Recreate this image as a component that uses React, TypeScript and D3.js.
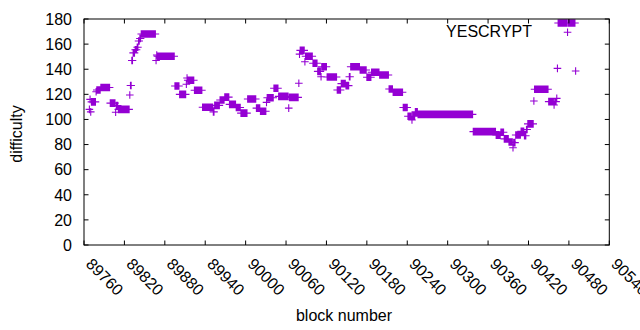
import React from 'react';
import * as d3 from 'd3';

// x tick labels (block numbers) and y tick labels (difficulty)
const xTicks = [89760, 89820, 89880, 89940, 90000, 90060, 90120, 90180, 90240, 90300, 90360, 90420, 90480, 90540];
const yTicks = [0, 20, 40, 60, 80, 100, 120, 140, 160, 180];
const seriesName = 'YESCRYPT';

// runs of constant difficulty: [first block, last block, difficulty]
const difficultyRuns: [number, number, number][] = [
  [89768, 89768, 108],
  [89769, 89769, 116],
  [89770, 89770, 106],
  [89771, 89777, 114],
  [89778, 89778, 122],
  [89779, 89784, 123.5],
  [89785, 89798, 125.5],
  [89799, 89806, 113],
  [89807, 89807, 105.7],
  [89808, 89810, 111],
  [89811, 89827, 108],
  [89828, 89828, 119.5],
  [89829, 89830, 127],
  [89831, 89832, 147],
  [89833, 89835, 153],
  [89836, 89838, 155.5],
  [89839, 89840, 157.5],
  [89841, 89842, 162.5],
  [89843, 89844, 164.5],
  [89845, 89866, 168],
  [89867, 89867, 147],
  [89868, 89868, 151.3],
  [89869, 89894, 150.3],
  [89895, 89901, 126.6],
  [89902, 89911, 120],
  [89912, 89912, 128],
  [89913, 89913, 133],
  [89914, 89923, 131.2],
  [89924, 89935, 123.2],
  [89936, 89951, 109.7],
  [89952, 89953, 106],
  [89954, 89961, 111.2],
  [89962, 89968, 115.5],
  [89969, 89975, 117.8],
  [89976, 89985, 112],
  [89986, 89992, 109.5],
  [89993, 90002, 105],
  [90003, 90015, 116.3],
  [90016, 90021, 109],
  [90022, 90030, 106.5],
  [90031, 90031, 113.6],
  [90032, 90041, 117.3],
  [90042, 90048, 124.8],
  [90049, 90063, 118.4],
  [90064, 90064, 109],
  [90065, 90078, 117.6],
  [90079, 90079, 128.8],
  [90080, 90080, 152],
  [90081, 90087, 155],
  [90088, 90088, 146],
  [90089, 90099, 150.3],
  [90100, 90106, 144.7],
  [90107, 90111, 138.3],
  [90112, 90112, 134],
  [90113, 90120, 142],
  [90121, 90135, 133.8],
  [90136, 90141, 123.5],
  [90142, 90148, 128.5],
  [90149, 90153, 126.9],
  [90154, 90155, 134],
  [90156, 90169, 142],
  [90170, 90179, 139.4],
  [90180, 90186, 133.6],
  [90187, 90198, 137.6],
  [90199, 90212, 135.4],
  [90213, 90218, 124.3],
  [90219, 90233, 121.6],
  [90234, 90240, 109.5],
  [90241, 90246, 102.5],
  [90247, 90247, 99.6],
  [90248, 90251, 102.5],
  [90252, 90255, 106],
  [90256, 90337, 104],
  [90338, 90371, 90.3],
  [90372, 90378, 87.5],
  [90379, 90383, 89.8],
  [90384, 90390, 84.5],
  [90391, 90396, 82],
  [90397, 90397, 77.5],
  [90398, 90400, 81.5],
  [90401, 90408, 87.6],
  [90409, 90413, 90.5],
  [90414, 90416, 87],
  [90417, 90418, 92],
  [90419, 90427, 96.5],
  [90428, 90428, 114.7],
  [90429, 90449, 124],
  [90450, 90457, 114.2],
  [90458, 90458, 111.5],
  [90459, 90461, 114.2],
  [90462, 90462, 116.8],
  [90463, 90463, 140.7],
  [90464, 90477, 176.8],
  [90478, 90478, 169.4],
  [90479, 90489, 176.8],
  [90490, 90490, 138.6],
];

const LEFT = 84;
const RIGHT = 609.3;
const TOP = 19;
const BOTTOM = 245;
const FONT = '"Liberation Sans", Arial, sans-serif';
const COLOR = '#9400d3';

export default function App() {
  const x = d3.scaleLinear().domain([xTicks[0], xTicks[xTicks.length - 1]]).range([LEFT, RIGHT]);
  const y = d3.scaleLinear().domain([0, 180]).range([BOTTOM, TOP]);
  const points: [number, number][] = difficultyRuns.flatMap(([a, b, v]) =>
    d3.range(a, b + 1).map((n) => [n, v] as [number, number])
  );
  const r = 3.8;
  const plusPath = points
    .map(([n, v]) => {
      const px = x(n);
      const py = y(v);
      return `M${px - r},${py}h${2 * r}M${px},${py - r}v${2 * r}`;
    })
    .join('');
  const tl = 4.5;

  return (
    <svg width={640} height={330} style={{ position: 'absolute', left: 0, top: 0, background: '#fff' }} fontFamily={FONT} fontSize={16}>
      <rect x={0} y={0} width={640} height={330} fill="#fff" />
      <path d={plusPath} stroke={COLOR} strokeWidth={1.1} fill="none" />
      {yTicks.map((t) => (
        <g key={'y' + t}>
          <line x1={LEFT} x2={LEFT + tl} y1={y(t)} y2={y(t)} stroke="#000" />
          <line x1={RIGHT} x2={RIGHT - tl} y1={y(t)} y2={y(t)} stroke="#000" />
          <text x={72} y={y(t)} dy="0.36em" textAnchor="end" fill="#000">{t}</text>
        </g>
      ))}
      {xTicks.map((t) => (
        <g key={'x' + t}>
          <line x1={x(t)} x2={x(t)} y1={BOTTOM} y2={BOTTOM - tl} stroke="#000" />
          <line x1={x(t)} x2={x(t)} y1={TOP} y2={TOP + tl} stroke="#000" />
          <text transform={`translate(${x(t) + 1},${BOTTOM + 20}) rotate(45)`} fill="#000">{t}</text>
        </g>
      ))}
      <rect x={LEFT} y={TOP} width={RIGHT - LEFT} height={BOTTOM - TOP} fill="none" stroke="#000" strokeWidth={1} />
      <text x={532} y={37} textAnchor="end" fill="#000">{seriesName}</text>
      <text x={344} y={321} textAnchor="middle" fill="#000">block number</text>
      <text transform={`translate(22,134) rotate(-90)`} textAnchor="middle" fill="#000">difficulty</text>
    </svg>
  );
}
